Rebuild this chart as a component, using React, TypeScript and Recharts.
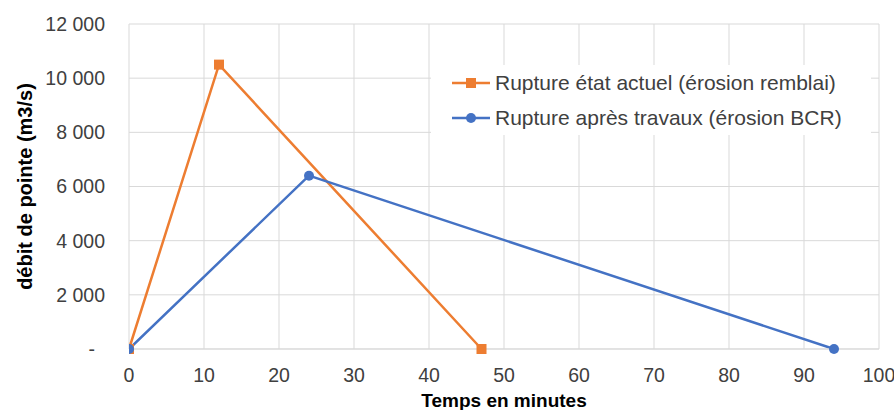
import React from 'react'
import { LineChart, Line, XAxis, YAxis, CartesianGrid, Legend } from 'recharts'

// Temps (minutes) et débit de pointe (m3/s)
const ACTUEL_MINUTES = [0, 12, 47]
const ACTUEL_DEBIT = [0, 10500, 0]
const TRAVAUX_MINUTES = [0, 24, 94]
const TRAVAUX_DEBIT = [0, 6400, 0]

const SERIES_NAMES = [
  'Rupture état actuel (érosion remblai)',
  'Rupture après travaux (érosion BCR)',
]
const SERIES_COLORS = ['#ED7D31', '#4472C4']

const X_TICKS = [0, 10, 20, 30, 40, 50, 60, 70, 80, 90, 100]
const Y_TICKS = [0, 2000, 4000, 6000, 8000, 10000, 12000]

const FONT = '"Liberation Sans", Arial, sans-serif'
const TEXT = '#404040'
const GRID = '#d9d9d9'

const actuelData = ACTUEL_MINUTES.map((t, i) => ({ t, debit: ACTUEL_DEBIT[i] }))
const travauxData = TRAVAUX_MINUTES.map((t, i) => ({ t, debit: TRAVAUX_DEBIT[i] }))

// 12000 -> "12 000", 0 -> "-"
const formatDebit = (v: number) =>
  v === 0 ? '-' : String(v).replace(/\B(?=(\d{3})+(?!\d))/g, ' ')

function YTick({ x, y, payload }: any) {
  const zero = payload.value === 0
  return (
    <text
      x={zero ? x - 10 : x}
      y={y}
      dy="0.355em"
      textAnchor="end"
      fill={TEXT}
      fontSize={19.5}
      fontFamily={FONT}
    >
      {formatDebit(payload.value)}
    </text>
  )
}

function SquareDot({ cx, cy, index }: any) {
  return (
    <rect
      key={`sq-${index}`}
      x={cx - 5}
      y={cy - 5}
      width={10}
      height={10}
      fill={SERIES_COLORS[0]}
    />
  )
}

// legend in the series order (recharts would sort it by name)
function LegendBox() {
  return (
    <div
      style={{
        background: '#fff',
        width: 440,
        height: 70,
        fontFamily: FONT,
        fontSize: 21,
        color: TEXT,
      }}
    >
      {SERIES_NAMES.map((name, i) => (
        <div
          key={name}
          style={{ height: 35, display: 'flex', alignItems: 'center', paddingLeft: 21 }}
        >
          <svg width={40} height={20} style={{ marginRight: 3 }}>
            <line x1={0} y1={10} x2={38} y2={10} stroke={SERIES_COLORS[i]} strokeWidth={2.5} />
            {i === 0 ? (
              <rect x={14} y={5} width={10} height={10} fill={SERIES_COLORS[i]} />
            ) : (
              <circle cx={19} cy={10} r={5} fill={SERIES_COLORS[i]} />
            )}
          </svg>
          <span>{name}</span>
        </div>
      ))}
    </div>
  )
}

export default function App() {
  return (
    <div style={{ width: 894, height: 410, background: '#fff' }}>
      <style>{'body{margin:0}'}</style>
      <LineChart width={894} height={410} margin={{ top: 24, right: 15, left: 0, bottom: 0 }}>
        <CartesianGrid stroke={GRID} strokeWidth={1} />
        <XAxis
          type="number"
          dataKey="t"
          domain={[0, 100]}
          ticks={X_TICKS}
          allowDataOverflow
          tickLine={false}
          axisLine={{ stroke: GRID }}
          tickMargin={13}
          tick={{ fill: TEXT, fontSize: 19.5, fontFamily: FONT }}
          height={61}
          label={{
            value: 'Temps en minutes',
            position: 'insideBottom',
            offset: 3,
            style: { fill: '#000', fontSize: 19, fontWeight: 700, fontFamily: FONT },
          }}
        />
        <YAxis
          type="number"
          domain={[0, 12000]}
          ticks={Y_TICKS}
          width={129}
          axisLine={false}
          tickLine={false}
          tickMargin={18}
          tick={<YTick />}
          label={{
            value: 'débit de pointe (m3/s)',
            angle: -90,
            position: 'insideLeft',
            offset: 25,
            style: {
              textAnchor: 'middle',
              fill: '#000',
              fontSize: 20,
              fontWeight: 700,
              fontFamily: FONT,
            },
          }}
        />
        <Legend
          layout="horizontal"
          verticalAlign="middle"
          align="center"
          content={<LegendBox />}
          wrapperStyle={{ top: 65, left: 431, width: 440, height: 70 }}
        />
        <Line
          data={actuelData}
          dataKey="debit"
          name={SERIES_NAMES[0]}
          stroke={SERIES_COLORS[0]}
          strokeWidth={2.5}
          dot={<SquareDot />}
          activeDot={false}
          isAnimationActive={false}
        />
        <Line
          data={travauxData}
          dataKey="debit"
          name={SERIES_NAMES[1]}
          stroke={SERIES_COLORS[1]}
          strokeWidth={2.5}
          dot={{ r: 5, fill: SERIES_COLORS[1], stroke: SERIES_COLORS[1], strokeWidth: 0 }}
          activeDot={false}
          isAnimationActive={false}
        />
      </LineChart>
    </div>
  )
}
